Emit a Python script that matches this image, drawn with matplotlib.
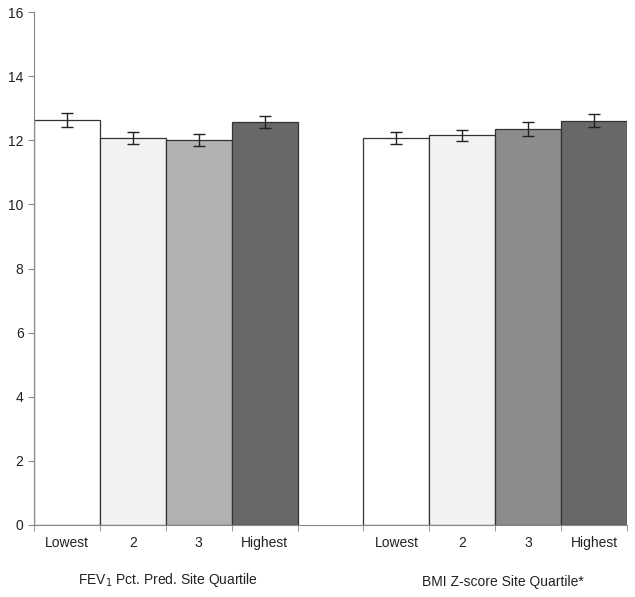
import matplotlib.pyplot as plt
import numpy as np

plt.rcParams['font.family'] = ['Liberation Sans', 'DejaVu Sans']

quartiles = ['Lowest', '2', '3', 'Highest']
fev_vals = [12.62, 12.07, 12.01, 12.58]
fev_err = [0.22, 0.18, 0.18, 0.19]
bmi_vals = [12.07, 12.15, 12.36, 12.61]
bmi_err = [0.19, 0.16, 0.22, 0.20]
fev_colors = ['#ffffff', '#f2f2f2', '#b2b2b2', '#686868']
bmi_colors = ['#ffffff', '#f2f2f2', '#8c8c8c', '#686868']

fig = plt.figure(figsize=(6.35, 5.97), dpi=100)
ax = fig.add_axes([34/635, 72/597, 593/635, 513/597])

x1 = np.arange(4)
x2 = np.arange(4) + 5
ax.bar(x1, fev_vals, width=1, color=fev_colors, edgecolor='#333333', linewidth=0.9,
       yerr=fev_err, capsize=4, error_kw=dict(ecolor='#222222', elinewidth=1, capthick=1))
ax.bar(x2, bmi_vals, width=1, color=bmi_colors, edgecolor='#333333', linewidth=0.9,
       yerr=bmi_err, capsize=4, error_kw=dict(ecolor='#222222', elinewidth=1, capthick=1))

ax.set_xlim(-0.5, 8.5)
ax.set_ylim(0, 16)
ax.set_yticks(range(0, 17, 2))
ax.set_xticks(list(x1) + list(x2))
ax.set_xticklabels(quartiles + quartiles)
ax.set_xticks(np.arange(-0.5, 9, 1), minor=True)
ax.tick_params(axis='x', which='major', length=0, pad=8, labelsize=10, labelcolor='#222222')
ax.tick_params(axis='x', which='minor', length=4, color='#888888')
ax.tick_params(axis='y', length=4, color='#888888', labelsize=10, labelcolor='#222222')

for s in ['top', 'right']:
    ax.spines[s].set_visible(False)
for s in ['left', 'bottom']:
    ax.spines[s].set_color('#888888')

fig.text(168/635, 1 - 580/597, 'FEV$_1$ Pct. Pred. Site Quartile', ha='center', va='center',
         fontsize=10, color='#222222')
fig.text(503/635, 1 - 582/597, 'BMI Z-score Site Quartile*', ha='center', va='center',
         fontsize=10, color='#222222')

fig.savefig('out.png', dpi=100)
